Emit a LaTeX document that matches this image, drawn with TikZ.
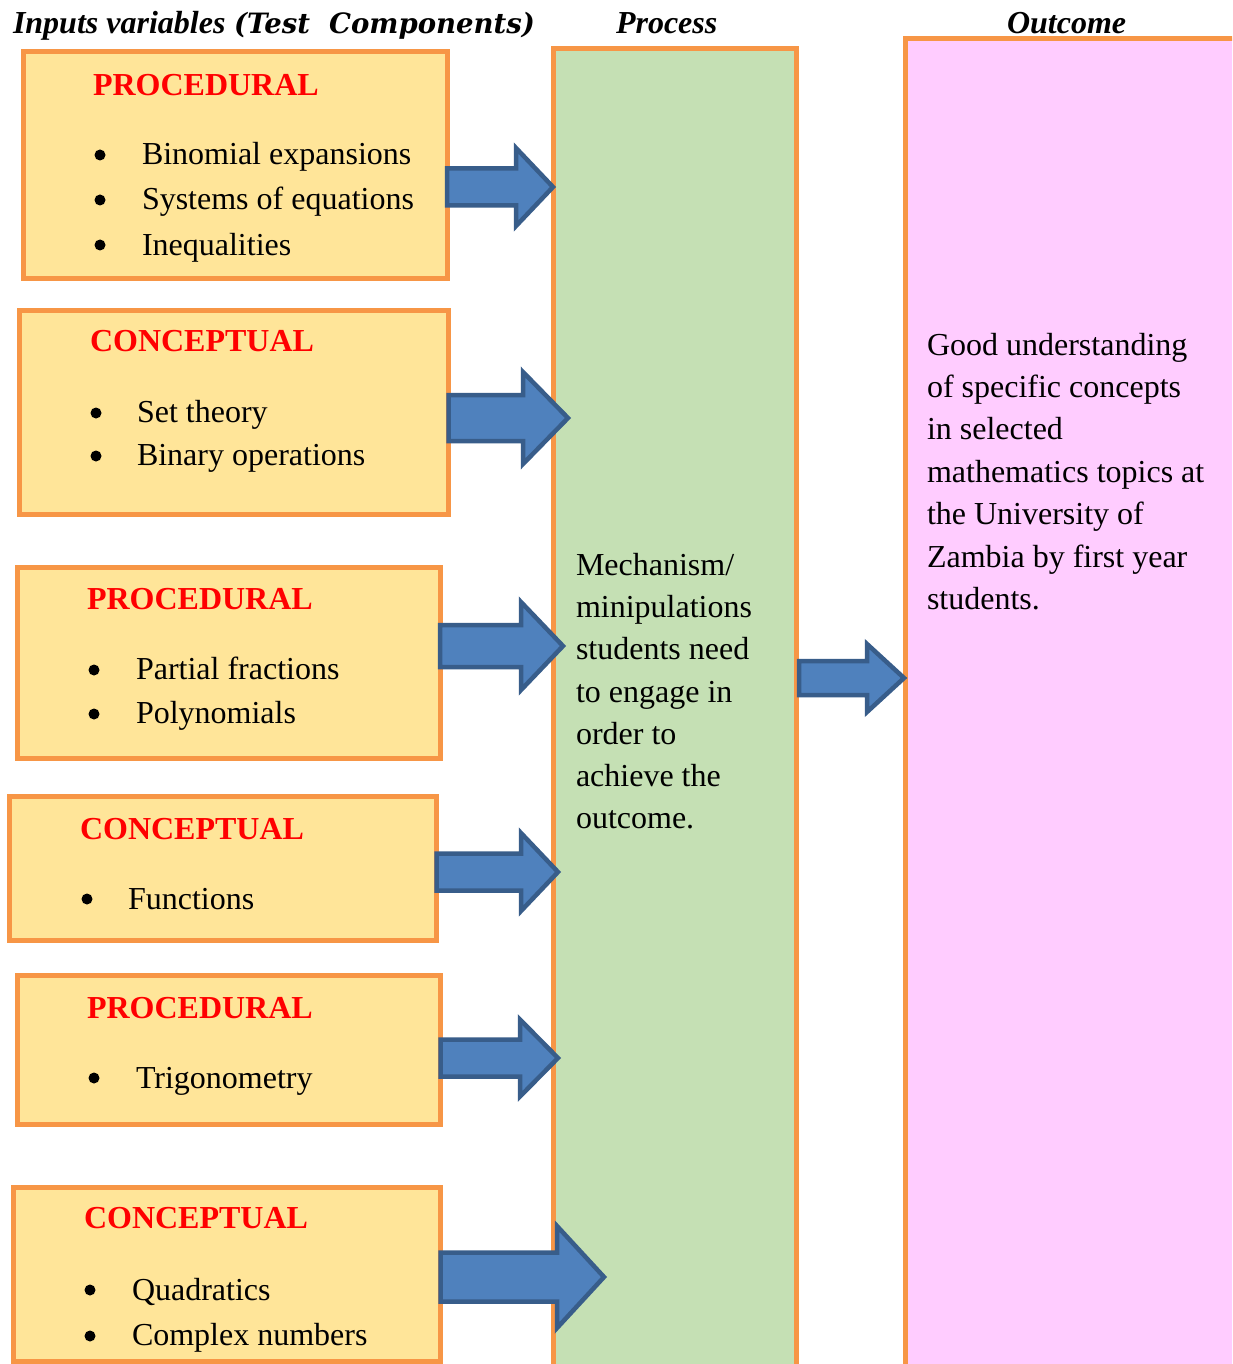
\documentclass[tikz,border=0pt]{standalone}
\usepackage{fontspec}
\usepackage{graphicx}
\setmainfont{Liberation Serif}
\newfontfamily\cambriaish{DejaVu Serif}
\usetikzlibrary{calc}
\definecolor{boxorange}{HTML}{F79646}
\definecolor{boxyellow}{HTML}{FFE599}
\definecolor{boxgreen}{HTML}{C5E0B4}
\definecolor{boxpink}{HTML}{FFCCFF}
\definecolor{arrowfill}{HTML}{4F81BD}
\definecolor{arrowline}{HTML}{385D8A}
\definecolor{headred}{HTML}{FF0000}
\newcommand\bodyfont{\fontsize{32}{38}\selectfont}
\newcommand\blockarrow[5]{%
  \draw[blk] let \p1=(#1), \p2=(#2) in
    (\x1,\y2+#3) -- (\x2-#5,\y2+#3) -- (\x2-#5,\y2+#4) -- (\p2)
    -- (\x2-#5,\y2-#4) -- (\x2-#5,\y2-#3) -- (\x1,\y2-#3) -- cycle;}
\begin{document}
\begin{tikzpicture}[x=1pt,y=-1pt,
  every node/.style={inner sep=0pt,outer sep=0pt},
  framebox/.style={draw=boxorange,line width=5pt,anchor=north west},
  inbox/.style={framebox,fill=boxyellow},
  head/.style={anchor=base west,text=headred,font=\bodyfont\bfseries},
  item/.style={anchor=base west,font=\bodyfont},
  bul/.style={circle,fill=black,minimum size=11pt},
  title/.style={anchor=base west,font=\fontsize{32}{38}\selectfont\bfseries\itshape},
  blk/.style={draw=arrowline,fill=arrowfill,line width=4.5pt,line join=miter}]
\useasboundingbox (0,0) rectangle (1232,1364);
\clip (0,0) rectangle (1232,1364);
\fill[white] (0,0) rectangle (1232,1364);

% titles
\node[title] (tin) at (13,34) {Inputs variables};
\node[title] (tin2) at (234,34) {\resizebox{301pt}{\height}{\cambriaish\fontsize{28}{34}\selectfont\bfseries\itshape (Test\ \ Components)}};
\node[title] (tproc) at (616,34) {Process};
\node[title] (tout) at (1007,34) {Outcome};

% process and outcome columns
\node[framebox,fill=boxgreen,minimum width=243pt,minimum height=1340pt] (proc) at (553.5,49) {};
\node[framebox,fill=boxpink,minimum width=500pt,minimum height=1340pt] (outc) at (905,38.5) {};

% input boxes
\node[inbox,minimum width=424pt,minimum height=226pt] (b1) at (23,52) {};
\node[inbox,minimum width=429pt,minimum height=204.5pt] (b2) at (19.5,310) {};
\node[inbox,minimum width=423pt,minimum height=191pt] (b3) at (17,567) {};
\node[inbox,minimum width=427pt,minimum height=144pt] (b4) at (9.5,796.5) {};
\node[inbox,minimum width=423.5pt,minimum height=149pt] (b5) at (17,975.5) {};
\node[inbox,minimum width=427pt,minimum height=174.5pt] (b6) at (13.5,1187) {};

% box 1
\node[head] (h1) at (93,96) {PROCEDURAL};
\node[bul] (d11) at (100,155) {};
\node[item] (i11) at (142,165) {Binomial expansions};
\node[bul] (d12) at (100,200) {};
\node[item] (i12) at (142,210) {Systems of equations};
\node[bul] (d13) at (100,245) {};
\node[item] (i13) at (142,255) {Inequalities};

% box 2
\node[head] (h2) at (90,351) {CONCEPTUAL};
\node[bul] (d21) at (96,413) {};
\node[item] (i21) at (137,422) {Set theory};
\node[bul] (d22) at (96,456) {};
\node[item] (i22) at (137,465) {Binary operations};

% box 3
\node[head] (h3) at (87,609) {PROCEDURAL};
\node[bul] (d31) at (94,670) {};
\node[item] (i31) at (136,679) {Partial fractions};
\node[bul] (d32) at (94,714) {};
\node[item] (i32) at (136,723) {Polynomials};

% box 4
\node[head] (h4) at (80,839) {CONCEPTUAL};
\node[bul] (d41) at (87,899) {};
\node[item] (i41) at (128,909) {Functions};

% box 5
\node[head] (h5) at (87,1018) {PROCEDURAL};
\node[bul] (d51) at (94,1078) {};
\node[item] (i51) at (136,1088) {Trigonometry};

% box 6
\node[head] (h6) at (84,1228) {CONCEPTUAL};
\node[bul] (d61) at (90,1290) {};
\node[item] (i61) at (132,1300) {Quadratics};
\node[bul] (d62) at (90,1336) {};
\node[item] (i62) at (132,1345) {Complex numbers};

% process text
\node[item] (p1) at (576,575) {Mechanism/};
\node[item] (p2) at (576,617) {minipulations};
\node[item] (p3) at (576,659) {students need};
\node[item] (p4) at (576,702) {to engage in};
\node[item] (p5) at (576,744) {order to};
\node[item] (p6) at (576,786) {achieve the};
\node[item] (p7) at (576,828) {outcome.};

% outcome text
\node[item] (o1) at (927,355) {Good understanding};
\node[item] (o2) at (927,397) {of specific concepts};
\node[item] (o3) at (927,439) {in selected};
\node[item] (o4) at (927,482) {mathematics topics at};
\node[item] (o5) at (927,524) {the University of};
\node[item] (o6) at (927,567) {Zambia by first year};
\node[item] (o7) at (927,609) {students.};

% arrow tips
\coordinate (t1) at (553,187);
\coordinate (t2) at (568,418);
\coordinate (t3) at (563,646);
\coordinate (t4) at (558,872);
\coordinate (t5) at (558,1058);
\coordinate (t6) at (604,1277);
\coordinate (t7) at (904,678);
\coordinate (s7) at (799,678);

\blockarrow{b1.east}{t1}{18.5pt}{39pt}{37pt}
\blockarrow{b2.east}{t2}{23pt}{46pt}{45pt}
\blockarrow{b3.east}{t3}{21pt}{44pt}{42pt}
\blockarrow{b4.east}{t4}{18.5pt}{39pt}{37pt}
\blockarrow{b5.east}{t5}{18.5pt}{38.5pt}{38pt}
\blockarrow{b6.east}{t6}{24.5pt}{51pt}{47pt}
\blockarrow{s7}{t7}{17pt}{34pt}{37pt}
\end{tikzpicture}
\end{document}
